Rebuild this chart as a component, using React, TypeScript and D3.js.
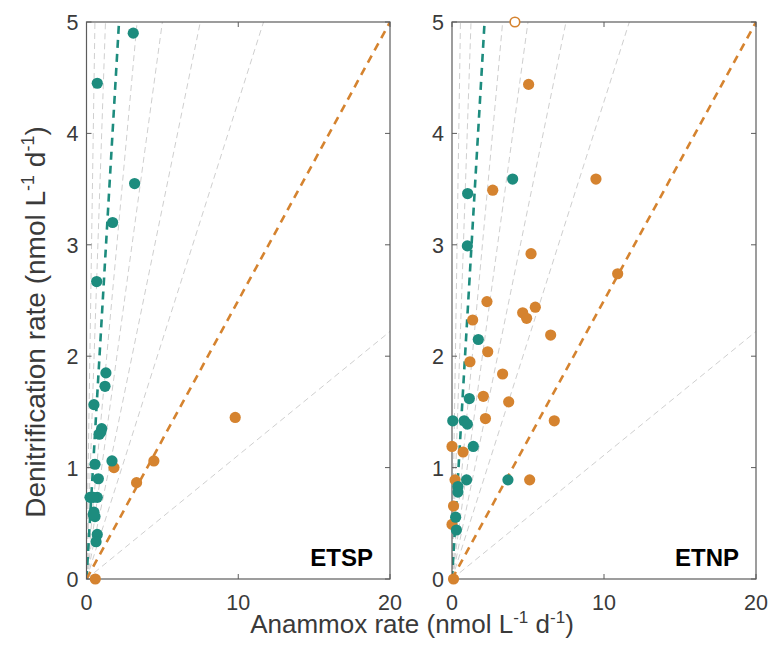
import React from 'react';
import * as d3 from 'd3';

// anammox fraction lines (A / (A + D)), drawn as D = A * (1 - f) / f
const fractions = [0.1, 0.2, 0.3, 0.4, 0.5, 0.6, 0.7, 0.8, 0.9];
const tealFraction = 0.3;
const orangeFraction = 0.8;

const xTicks = [0, 10, 20];
const yTicks = [0, 1, 2, 3, 4, 5];

// [anammox, denitrification]
const etspTeal = [
  [3.08, 4.9], [0.71, 4.45], [3.17, 3.55], [1.72, 3.2], [0.67, 2.67],
  [1.28, 1.85], [1.22, 1.73], [0.49, 1.565], [1.0, 1.35], [0.84, 1.3],
  [0.95, 1.32], [1.68, 1.06], [0.56, 1.03], [0.78, 0.9], [0.23, 0.733],
  [0.71, 0.733], [0.45, 0.733], [0.49, 0.6], [0.56, 0.56], [0.45, 0.58],
  [0.71, 0.4], [0.63, 0.335],
];
const etspOrange = [[1.81, 1.0], [3.3, 0.865], [4.44, 1.06], [9.8, 1.45], [0.58, 0]];

const etnpTeal = [
  [3.99, 3.59], [1.03, 3.46], [1.01, 2.99], [1.73, 2.15], [1.14, 1.62],
  [0.05, 1.42], [0.8, 1.42], [1.01, 1.39], [1.4, 1.19], [0.96, 0.89],
  [3.68, 0.89], [0.39, 0.83], [0.39, 0.78], [0.24, 0.555], [0.29, 0.44],
];
const etnpOrange = [
  [5.04, 4.44], [9.47, 3.59], [2.68, 3.49], [5.2, 2.92], [10.9, 2.74],
  [2.3, 2.49], [5.48, 2.44], [4.65, 2.39], [4.91, 2.34], [1.36, 2.325],
  [6.49, 2.19], [2.35, 2.04], [1.18, 1.95], [3.33, 1.84], [2.06, 1.64],
  [3.73, 1.59], [2.2, 1.44], [6.73, 1.42], [0, 1.19], [0.73, 1.14],
  [0.2, 0.89], [5.11, 0.89], [0.1, 0.655], [0, 0.49], [0.1, 0],
];
// value above the axis limit, shown as an open marker at the top
const etnpOrangeOpen = [[4.14, 5.0]];

const TEAL = '#1d8c7e';
const ORANGE = '#d5832f';
const AXIS = '#5c5c5c';
const TXT = '#3a3a3a';
const FONT = '"Liberation Sans", Arial, Helvetica, sans-serif';

const top = 22;
const bottom = 579;
const y = d3.scaleLinear().domain([0, 5]).range([bottom, top]);

function Panel({ left, right, teal, orange, open = [], label }: any) {
  const x = d3.scaleLinear().domain([0, 20]).range([left, right]);
  const clipId = 'clip-' + label;
  const lineEnd = (f: number) => {
    const slope = (1 - f) / f;
    // end at whichever limit is hit first
    const xe = Math.min(20, 5 / slope);
    return [xe, xe * slope];
  };
  const r = 5.6;
  return (
    <g>
      <defs>
        <clipPath id={clipId}>
          <rect x={left} y={top} width={right - left} height={bottom - top} />
        </clipPath>
      </defs>
      <g clipPath={`url(#${clipId})`}>
        {fractions.filter(f => f !== tealFraction && f !== orangeFraction).map(f => {
          const [xe, ye] = lineEnd(f);
          return (
            <line key={f} x1={x(0)} y1={y(0)} x2={x(xe)} y2={y(ye)}
              stroke="#cfcfcf" strokeWidth={1} strokeDasharray="6 4" />
          );
        })}
        {[tealFraction, orangeFraction].map((f, i) => {
          const [xe, ye] = lineEnd(f);
          return (
            <line key={'c' + f} x1={x(0)} y1={y(0)} x2={x(xe)} y2={y(ye)}
              stroke={i === 0 ? TEAL : ORANGE} strokeWidth={2.6} strokeDasharray="8 6" />
          );
        })}
      </g>
      {/* axes box */}
      <rect x={left} y={top} width={right - left} height={bottom - top}
        fill="none" stroke={AXIS} strokeWidth={1.2} />
      {xTicks.map(t => (
        <g key={'x' + t}>
          <line x1={x(t)} x2={x(t)} y1={bottom} y2={bottom - 5} stroke={AXIS} />
          <line x1={x(t)} x2={x(t)} y1={top} y2={top + 5} stroke={AXIS} />
          <text x={x(t)} y={bottom + 31} textAnchor="middle" fontSize={21.5}
            fontFamily={FONT} fill={TXT}>{t}</text>
        </g>
      ))}
      {yTicks.map(t => (
        <g key={'y' + t}>
          <line x1={left} x2={left + 5} y1={y(t)} y2={y(t)} stroke={AXIS} />
          <line x1={right} x2={right - 5} y1={y(t)} y2={y(t)} stroke={AXIS} />
          <text x={left - 8} y={y(t) + 8} textAnchor="end" fontSize={21.5}
            fontFamily={FONT} fill={TXT}>{t}</text>
        </g>
      ))}
      {orange.map((d: number[], i: number) => (
        <circle key={'o' + i} cx={x(d[0])} cy={y(d[1])} r={r} fill={ORANGE} />
      ))}
      {teal.map((d: number[], i: number) => (
        <circle key={'t' + i} cx={x(d[0])} cy={y(d[1])} r={r} fill={TEAL} />
      ))}
      {open.map((d: number[], i: number) => (
        <circle key={'p' + i} cx={x(d[0])} cy={y(d[1])} r={r - 0.8} fill="white"
          stroke={ORANGE} strokeWidth={1.6} />
      ))}
      <text x={right - 17} y={566} textAnchor="end" fontSize={24} fontWeight="bold"
        fontFamily={FONT} fill="#000">{label}</text>
    </g>
  );
}

export default function App() {
  return (
    <svg width={770} height={650} style={{ position: 'absolute', left: 0, top: 0, background: '#fff' }}>
      <Panel left={86.5} right={390} teal={etspTeal} orange={etspOrange} label="ETSP" />
      <Panel left={452} right={756} teal={etnpTeal} orange={etnpOrange} open={etnpOrangeOpen} label="ETNP" />
      <text transform="translate(45,322) rotate(-90)" textAnchor="middle" fontSize={28}
        fontFamily={FONT} fill={TXT}>
        Denitrification rate (nmol L<tspan dy={-11} fontSize={18}>-1</tspan>
        <tspan dy={11}> d</tspan><tspan dy={-11} fontSize={18}>-1</tspan><tspan dy={11}>)</tspan>
      </text>
      <text x={412} y={633} textAnchor="middle" fontSize={26} fontFamily={FONT} fill={TXT}>
        Anammox rate (nmol L<tspan dy={-10} fontSize={17}>-1</tspan>
        <tspan dy={10}> d</tspan><tspan dy={-10} fontSize={17}>-1</tspan><tspan dy={10}>)</tspan>
      </text>
    </svg>
  );
}
